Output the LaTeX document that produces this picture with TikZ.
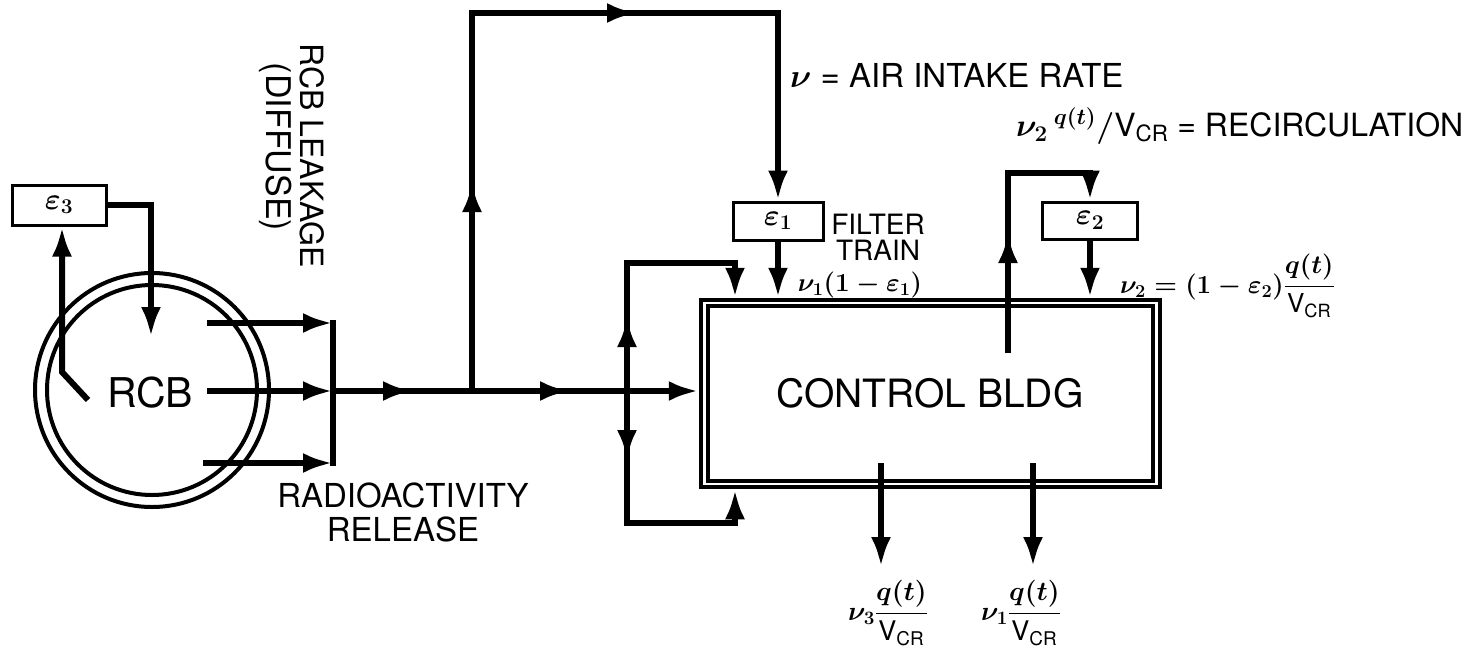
\RequirePackage{fix-cm}
\documentclass[tikz,border=0pt]{standalone}
\usepackage{amsmath}
\usepackage{fontspec}
\setmainfont{TeX Gyre Heros}
\usetikzlibrary{arrows.meta,calc}
\newcommand{\Vcr}{\text{V}_{\text{CR}}}
\begin{document}
\begin{tikzpicture}[x=1pt,y=-1pt,
  flow/.style={line width=6pt},
  endtip/.style={-{Latex[length=30pt,width=20pt]}},
  ebox/.style={draw,line width=3pt,inner sep=0pt},
  lbl/.style={inner sep=0pt}
]
\useasboundingbox (0,0) rectangle (1475,648);

% RCB
\node[circle,draw,line width=4pt,minimum size=210pt,inner sep=0pt] (rcb) at (152,390) {};
\draw[line width=4pt] (rcb.center) circle[radius=117pt];
\node[lbl,font=\fontsize{41}{41}\selectfont] (rcbtxt) at (150,393) {RCB};

% epsilon 3 loop
\node[ebox,minimum width=94pt,minimum height=40pt,font=\fontsize{30}{30}\selectfont\boldmath] (e3) at (59,205) {$\varepsilon_3$};
\coordinate (e3a) at (151,205);
\coordinate (e3b) at (151,337);
\draw[flow,endtip] (e3.east) -- (e3a) -- (e3b);
\coordinate (r1) at (88,400);
\coordinate (r2) at (62,372);
\draw[flow,endtip] (r1) -- (r2) -- (r2 |- e3.south);

% release lines
\coordinate (s1) at (207,323);
\coordinate (s2) at (207,391);
\coordinate (s3) at (203,463);
\coordinate (k1) at (333,323);
\coordinate (k2) at (333,391);
\coordinate (k3) at (333,463);
\draw[flow] ($(k1)+(0,-3)$) -- ($(k3)+(0,3)$);
\draw[flow,endtip] (s1) -- (k1);
\draw[flow,endtip] (s2) -- (k2);
\draw[flow,endtip] (s3) -- (k3);

% control building
\node[draw,line width=4.5pt,minimum width=459pt,minimum height=187pt,inner sep=0pt] (cb) at (930.5,393.5) {};
\draw[line width=3.5pt] ($(cb.center)+(-222.5,-87.5)$) rectangle ($(cb.center)+(222.5,87.5)$);
\node[lbl,font=\fontsize{39}{39}\selectfont] (cbtxt) at (930,393) {CONTROL BLDG};

% main line
\draw[flow,endtip] (k2) -- (cb.west |- k2);
\coordinate (m1) at (413,391);
\coordinate (m2) at (570,391);
\draw[flow,endtip] ($(m1)+(-32,0)$) -- (m1);
\draw[flow,endtip] ($(m2)+(-32,0)$) -- (m2);

% air intake loop
\node[ebox,minimum width=90pt,minimum height=38pt,font=\fontsize{30}{30}\selectfont\boldmath] (e1) at (778,221) {$\varepsilon_1$};
\coordinate (j1) at (472,391);
\coordinate (t1) at (472,13);
\coordinate (t2) at (778,13);
\draw[flow,endtip] (j1) -- (t1) -- (t2) -- (e1.north);
\coordinate (m3) at (472,182);
\coordinate (m4) at (637,13);
\draw[flow,endtip] ($(m3)+(0,32)$) -- (m3);
\draw[flow,endtip] ($(m4)+(-32,0)$) -- (m4);
\draw[flow,endtip] (e1.south) -- (e1.south |- cb.north);

% side loop
\coordinate (j2) at (627,391);
\coordinate (u1) at (627,263);
\coordinate (u2) at (735,263);
\coordinate (d1) at (627,523);
\coordinate (d2) at (735,523);
\draw[flow,endtip] (j2) -- (u1) -- (u2) -- (u2 |- cb.north);
\draw[flow,endtip] (j2) -- (d1) -- (d2) -- (d2 |- cb.south);
\coordinate (m5) at (627,317);
\coordinate (m6) at (627,460);
\draw[flow,endtip] ($(m5)+(0,32)$) -- (m5);
\draw[flow,endtip] ($(m6)+(0,-32)$) -- (m6);

% recirculation loop
\node[ebox,minimum width=95pt,minimum height=37pt,font=\fontsize{30}{30}\selectfont\boldmath] (e2) at (1090,220.5) {$\varepsilon_2$};
\coordinate (w0) at (1008,353);
\coordinate (w1) at (1008,173);
\coordinate (w2) at (1090,173);
\draw[flow,endtip] (w0) -- (w1) -- (w2) -- (e2.north);
\coordinate (m7) at (1008,233);
\draw[flow,endtip] ($(m7)+(0,32)$) -- (m7);
\draw[flow,endtip] (e2.south) -- (e2.south |- cb.north);

% outlets
\coordinate (o1) at (881,463);
\coordinate (o1e) at (881,567);
\coordinate (o2) at (1033,463);
\coordinate (o2e) at (1033,567);
\draw[flow,endtip] (o1) -- (o1e);
\draw[flow,endtip] (o2) -- (o2e);

% labels
\node[lbl,rotate=-90,font=\fontsize{32}{32}\selectfont] (leak) at (312,156) {RCB LEAKAGE};
\node[lbl,rotate=-90,font=\fontsize{34}{34}\selectfont] (diff) at (276,147) {(DIFFUSE)};
\node[lbl,align=center,font=\fontsize{33}{34}\selectfont] (rel) at (403,512) {RADIOACTIVITY\\RELEASE};
\node[lbl,anchor=west,font=\fontsize{33}{33}\selectfont\boldmath] (air) at (790,75) {$\nu$ = AIR INTAKE RATE};
\node[lbl,anchor=west,font=\fontsize{32}{32}\selectfont\boldmath] (rec) at (1016,126) {$\nu_2\,{}^{q(t)}/\Vcr$ = RECIRCULATION};
\node[lbl,align=center,font=\fontsize{28}{26}\selectfont] (ft) at (878,237) {FILTER\\TRAIN};
\node[lbl,font=\fontsize{26}{26}\selectfont\boldmath] (v1l) at (860,285) {$\nu_1(1-\varepsilon_1)$};
\node[lbl,anchor=west,font=\fontsize{26}{26}\selectfont\boldmath] (v2l) at (1120,286) {$\nu_2=(1-\varepsilon_2)\dfrac{q(t)}{\Vcr}$};
\node[lbl,font=\fontsize{27}{27}\selectfont\boldmath] (b1) at (888,613) {$\nu_3\dfrac{q(t)}{\Vcr}$};
\node[lbl,font=\fontsize{27}{27}\selectfont\boldmath] (b2) at (1021,613) {$\nu_1\dfrac{q(t)}{\Vcr}$};
\end{tikzpicture}
\end{document}
